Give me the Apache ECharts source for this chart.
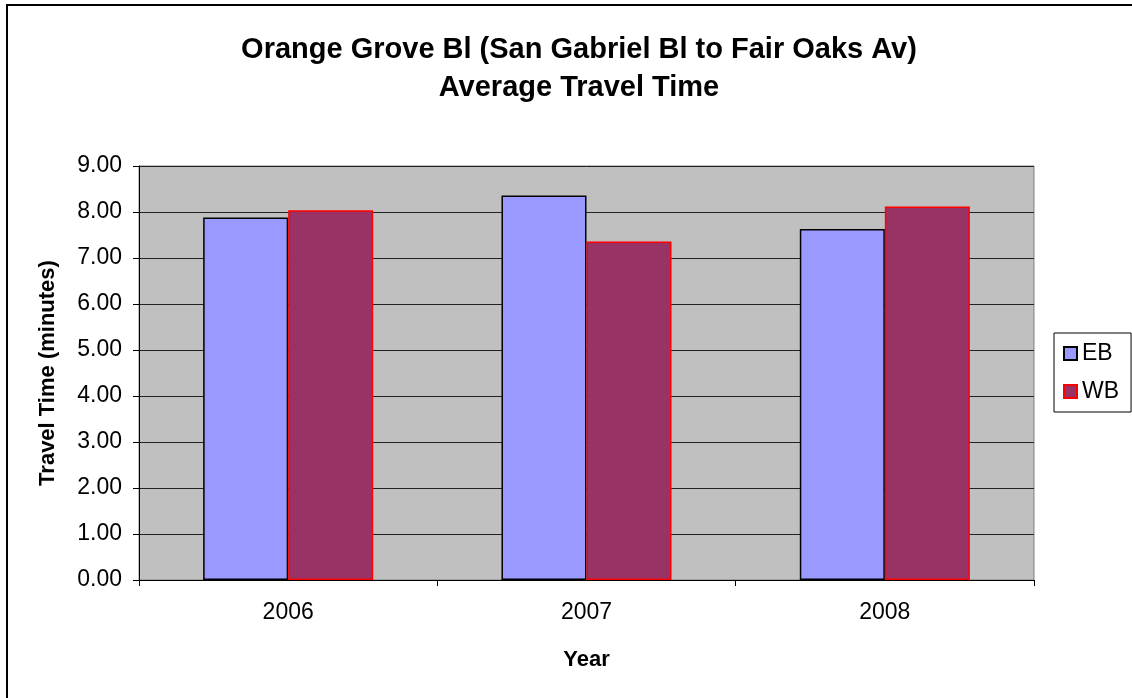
<!DOCTYPE html>
<html lang="en">
<head>
    <meta charset="utf-8">
    <title>Orange Grove Bl Average Travel Time</title>
    <script src="https://cdn.jsdelivr.net/npm/echarts@6/dist/echarts.min.js"></script>
    <style>
        html, body { margin: 0; height: 100%; background: #fff; }
        #chart { width: 1132px; height: 698px; }
    </style>
</head>
<body>
    <div id="chart"></div>
    <script>
        // data
        var years = ['2006', '2007', '2008'];
        var ebTimes = [7.88, 8.36, 7.63];
        var wbTimes = [8.04, 7.36, 8.12];
        var yTicks = [0, 9, 1]; // min, max, step

        var font = 'Arial, "Liberation Sans", sans-serif';
        var chart = echarts.init(document.getElementById('chart'), null, { renderer: 'canvas' });

        chart.setOption({
            animation: false,
            backgroundColor: '#fff',
            textStyle: { fontFamily: font },
            title: {
                text: 'Orange Grove Bl (San Gabriel Bl to Fair Oaks Av)\nAverage Travel Time',
                left: 574,
                top: 26,
                textAlign: 'center',
                textStyle: { fontSize: 29, fontWeight: 'bold', color: '#000', lineHeight: 38, fontFamily: font }
            },
            graphic: [{
                type: 'rect',
                shape: { x: 7, y: 5, width: 1300, height: 900 },
                style: { fill: 'none', stroke: '#000', lineWidth: 2 },
                silent: true
            }],
            legend: {
                orient: 'vertical',
                left: 1054,
                top: 333,
                padding: [9, 12, 9, 9],
                itemWidth: 13,
                itemHeight: 13,
                itemGap: 15,
                itemTextGap: 10,
                icon: 'rect',
                borderColor: '#000',
                borderWidth: 1,
                textStyle: { fontSize: 23, color: '#000', fontFamily: font },
                data: ['EB', 'WB']
            },
            grid: {
                left: 139, top: 166, right: 98, bottom: 118,
                show: true,
                backgroundColor: '#C0C0C0',
                borderColor: '#808080',
                borderWidth: 1
            },
            xAxis: {
                type: 'category',
                data: years,
                name: 'Year',
                nameLocation: 'middle',
                nameGap: 69,
                nameTextStyle: { fontSize: 22, fontWeight: 'bold', color: '#000', fontFamily: font },
                axisLine: { lineStyle: { color: '#000', width: 1 } },
                axisTick: { show: true, length: 6, alignWithLabel: false, lineStyle: { color: '#000' } },
                axisLabel: { fontSize: 23, color: '#000', margin: 21, fontFamily: font },
                splitLine: { show: false }
            },
            yAxis: {
                type: 'value',
                min: yTicks[0],
                max: yTicks[1],
                interval: yTicks[2],
                name: 'Travel Time (minutes)',
                nameLocation: 'middle',
                nameGap: 80,
                nameTextStyle: { fontSize: 22, fontWeight: 'bold', color: '#000', fontFamily: font },
                axisLine: { show: true, lineStyle: { color: '#000', width: 1 } },
                axisTick: { show: true, length: 6, lineStyle: { color: '#000' } },
                axisLabel: {
                    fontSize: 23, color: '#000', margin: 17, fontFamily: font,
                    formatter: function (v) { return v.toFixed(2); }
                },
                splitLine: { show: true, lineStyle: { color: '#222', width: 1 } }
            },
            series: [{
                name: 'EB',
                type: 'bar',
                data: ebTimes,
                barGap: '0%',
                barCategoryGap: '43%',
                itemStyle: { color: '#9999FF', borderColor: '#000', borderWidth: 1.5 }
            }, {
                name: 'WB',
                type: 'bar',
                data: wbTimes,
                barGap: '0%',
                barCategoryGap: '43%',
                itemStyle: { color: '#993366', borderColor: '#FF0000', borderWidth: 1.5 }
            }]
        });
    </script>
</body>
</html>
